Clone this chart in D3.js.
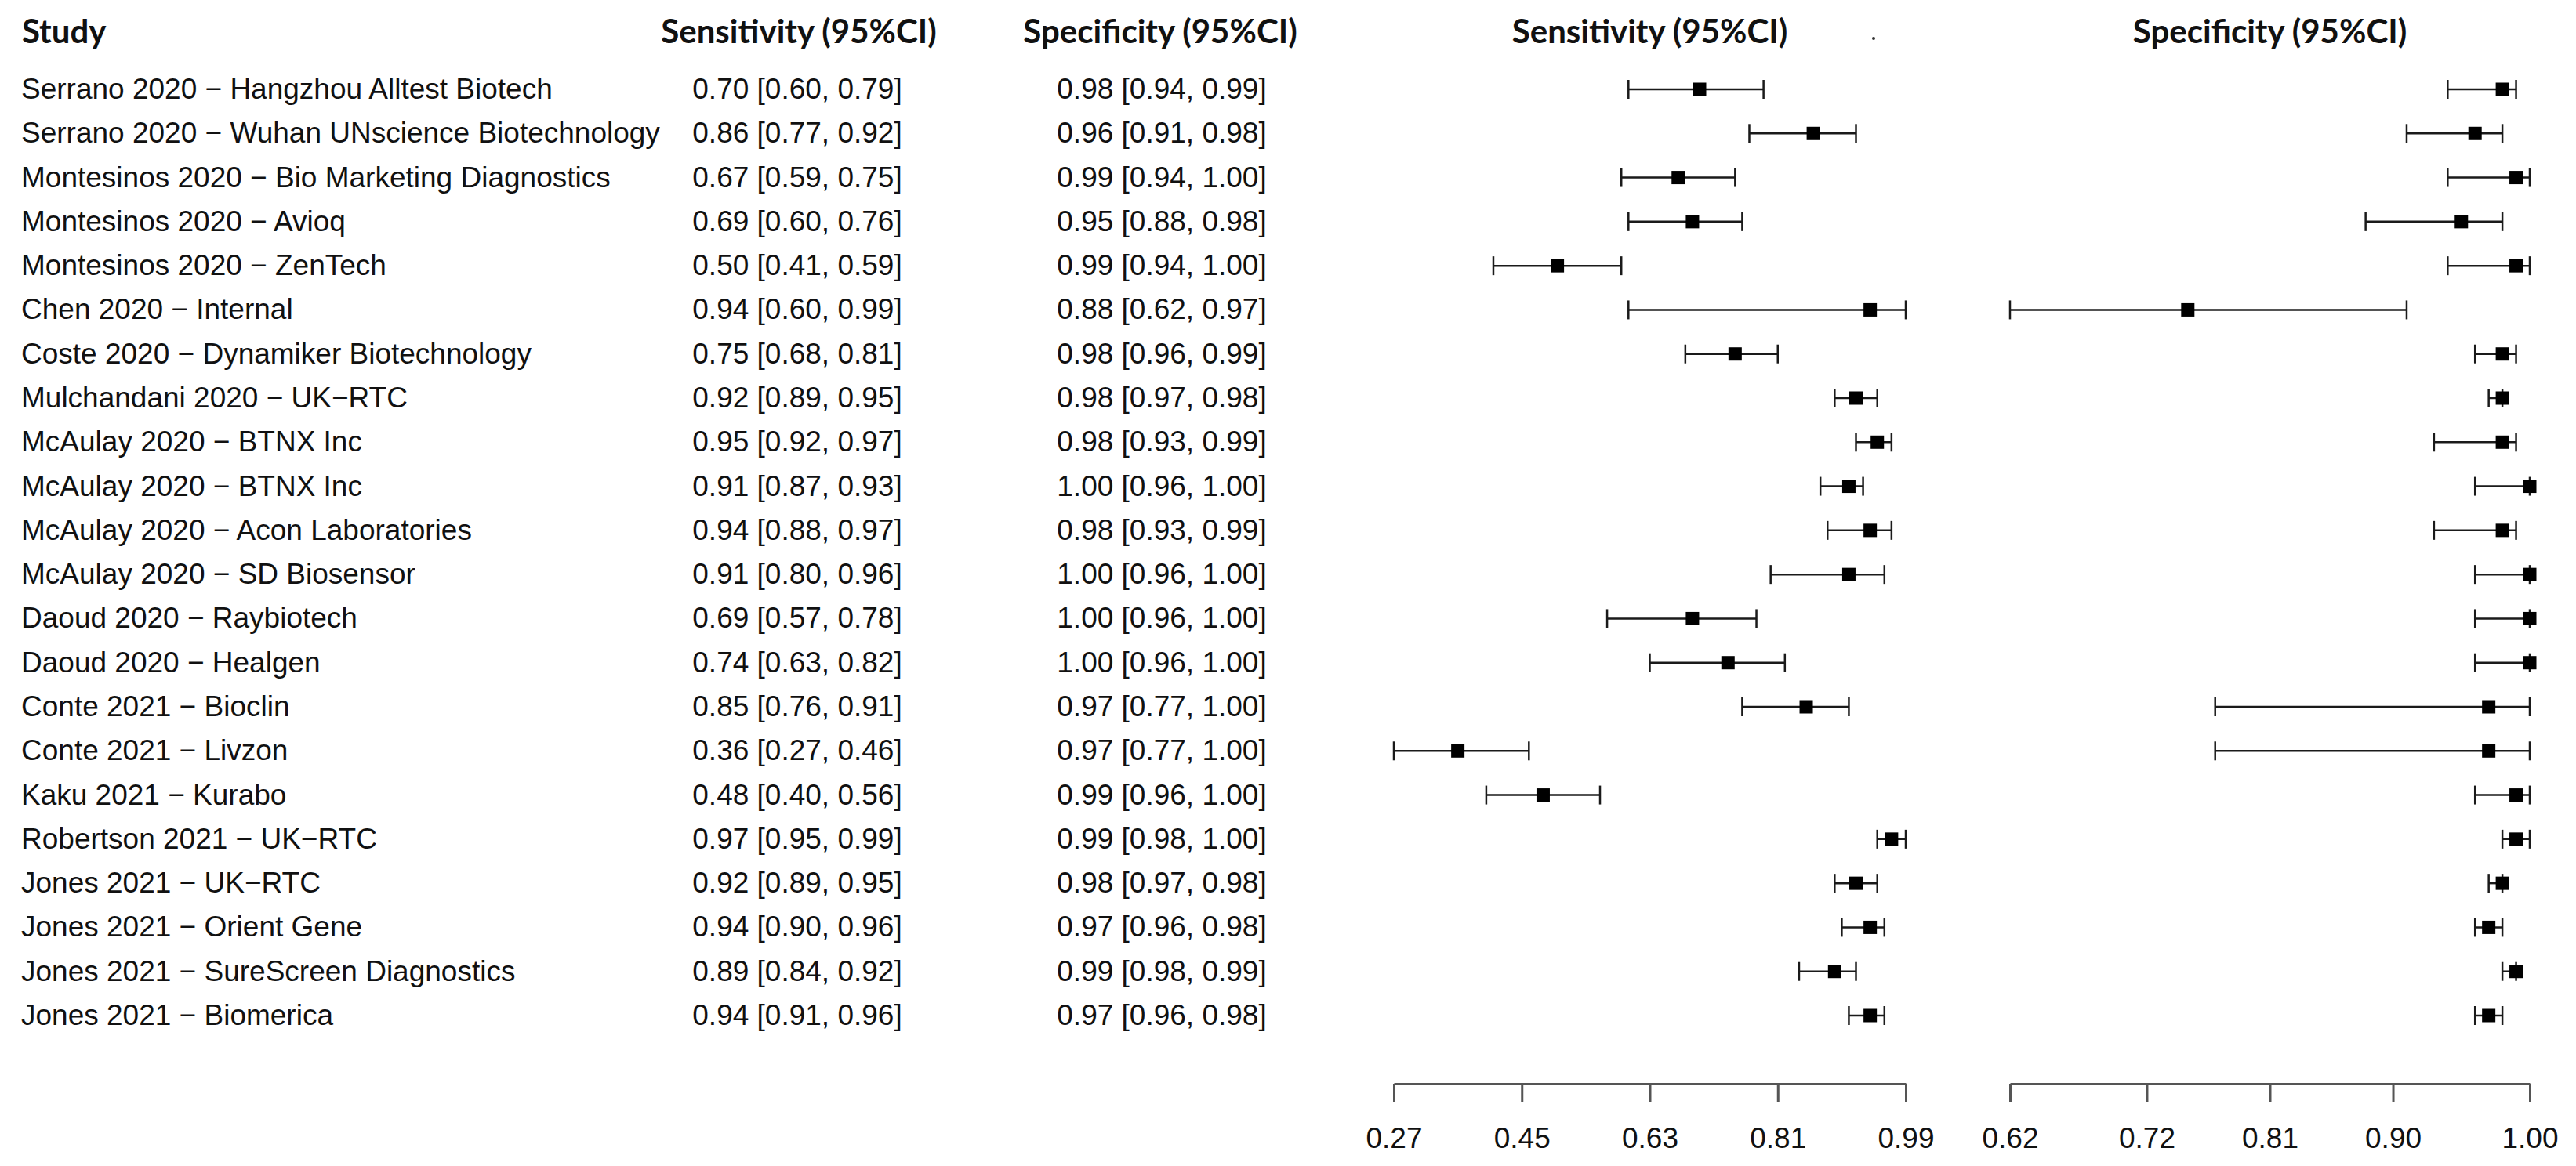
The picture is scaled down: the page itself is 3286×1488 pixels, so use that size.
<!DOCTYPE html>
<html>
<head>
<meta charset="utf-8">
<script src="https://cdn.jsdelivr.net/npm/d3@7"></script>
<style>
  html, body { margin: 0; padding: 0; background: #fff; }
  svg { display: block; }
</style>
</head>
<body>
<script>
const studies = [
  "Serrano 2020 \u2212 Hangzhou Alltest Biotech",
  "Serrano 2020 \u2212 Wuhan UNscience Biotechnology",
  "Montesinos 2020 \u2212 Bio Marketing Diagnostics",
  "Montesinos 2020 \u2212 Avioq",
  "Montesinos 2020 \u2212 ZenTech",
  "Chen 2020 \u2212 Internal",
  "Coste 2020 \u2212 Dynamiker Biotechnology",
  "Mulchandani 2020 \u2212 UK\u2212RTC",
  "McAulay 2020 \u2212 BTNX Inc",
  "McAulay 2020 \u2212 BTNX Inc",
  "McAulay 2020 \u2212 Acon Laboratories",
  "McAulay 2020 \u2212 SD Biosensor",
  "Daoud 2020 \u2212 Raybiotech",
  "Daoud 2020 \u2212 Healgen",
  "Conte 2021 \u2212 Bioclin",
  "Conte 2021 \u2212 Livzon",
  "Kaku 2021 \u2212 Kurabo",
  "Robertson 2021 \u2212 UK\u2212RTC",
  "Jones 2021 \u2212 UK\u2212RTC",
  "Jones 2021 \u2212 Orient Gene",
  "Jones 2021 \u2212 SureScreen Diagnostics",
  "Jones 2021 \u2212 Biomerica"
];
// printed text columns
const sensText = [
  "0.70 [0.60, 0.79]","0.86 [0.77, 0.92]","0.67 [0.59, 0.75]","0.69 [0.60, 0.76]","0.50 [0.41, 0.59]",
  "0.94 [0.60, 0.99]","0.75 [0.68, 0.81]","0.92 [0.89, 0.95]","0.95 [0.92, 0.97]","0.91 [0.87, 0.93]",
  "0.94 [0.88, 0.97]","0.91 [0.80, 0.96]","0.69 [0.57, 0.78]","0.74 [0.63, 0.82]","0.85 [0.76, 0.91]",
  "0.36 [0.27, 0.46]","0.48 [0.40, 0.56]","0.97 [0.95, 0.99]","0.92 [0.89, 0.95]","0.94 [0.90, 0.96]",
  "0.89 [0.84, 0.92]","0.94 [0.91, 0.96]"
];
const specText = [
  "0.98 [0.94, 0.99]","0.96 [0.91, 0.98]","0.99 [0.94, 1.00]","0.95 [0.88, 0.98]","0.99 [0.94, 1.00]",
  "0.88 [0.62, 0.97]","0.98 [0.96, 0.99]","0.98 [0.97, 0.98]","0.98 [0.93, 0.99]","1.00 [0.96, 1.00]",
  "0.98 [0.93, 0.99]","1.00 [0.96, 1.00]","1.00 [0.96, 1.00]","1.00 [0.96, 1.00]","0.97 [0.77, 1.00]",
  "0.97 [0.77, 1.00]","0.99 [0.96, 1.00]","0.99 [0.98, 1.00]","0.98 [0.97, 0.98]","0.97 [0.96, 0.98]",
  "0.99 [0.98, 0.99]","0.97 [0.96, 0.98]"
];
// plotted values (as drawn in the panels)
const sensEst = [0.70,0.86,0.67,0.69,0.50,0.94,0.75,0.92,0.95,0.91,0.94,0.91,0.69,0.74,0.85,0.36,0.48,0.97,0.92,0.94,0.89,0.94];
const sensLo  = [0.60,0.77,0.59,0.60,0.41,0.60,0.68,0.89,0.92,0.87,0.88,0.80,0.57,0.63,0.76,0.27,0.40,0.95,0.89,0.90,0.84,0.91];
const sensHi  = [0.79,0.92,0.75,0.76,0.59,0.99,0.81,0.95,0.97,0.93,0.97,0.96,0.78,0.82,0.91,0.46,0.56,0.99,0.95,0.96,0.92,0.96];
const specEst = [0.98,0.96,0.99,0.95,0.99,0.75,0.98,0.98,0.98,1.00,0.98,1.00,1.00,1.00,0.97,0.97,0.99,0.99,0.98,0.97,0.99,0.97];
const specLo  = [0.94,0.91,0.94,0.88,0.94,0.62,0.96,0.97,0.93,0.96,0.93,0.96,0.96,0.96,0.77,0.77,0.96,0.98,0.97,0.96,0.98,0.96];
const specHi  = [0.99,0.98,1.00,0.98,1.00,0.91,0.99,0.98,0.99,1.00,0.99,1.00,1.00,1.00,1.00,1.00,1.00,1.00,0.98,0.98,0.99,0.98];
const sensTicks = [0.27,0.45,0.63,0.81,0.99];
const sensTickLabels = ["0.27","0.45","0.63","0.81","0.99"];
const specTicks = [0.62,0.72,0.81,0.90,1.00];
const specTickLabels = ["0.62","0.72","0.81","0.90","1.00"];
const headers = ["Study","Sensitivity (95%CI)","Specificity (95%CI)","Sensitivity (95%CI)","Specificity (95%CI)"];

const W = 3286, H = 1488;
const svg = d3.select("body").append("svg").attr("width", W).attr("height", H);

const idx = d3.range(studies.length);
const y = d3.scalePoint().domain(idx).range([114, 1296]);
const xSens = d3.scaleLinear().domain([0.27, 0.99]).range([1778, 2431]);
const xSpec = d3.scaleLinear().domain([0.62, 1.00]).range([2564, 3227]);

const bodyFont = "'Liberation Sans', Arial, sans-serif";
const headFont = "Lato, 'Open Sans', sans-serif";

// headers
const headerX = [28, 1019, 1480, xSens(0.63), xSpec(0.81)];
const headerAnchor = ["start","middle","middle","middle","middle"];
svg.append("g").selectAll("text").data(headers).join("text")
  .attr("x", (d, i) => headerX[i])
  .attr("y", 55)
  .attr("text-anchor", (d, i) => headerAnchor[i])
  .style("font-family", headFont)
  .style("font-weight", 700)
  .style("font-size", "42px")
  .attr("fill", "#111")
  .text(d => d);

svg.append("circle").attr("cx", 2390).attr("cy", 49).attr("r", 2).attr("fill", "#333");

// text columns
const rows = svg.append("g").selectAll("g").data(idx).join("g");
rows.append("text")
  .attr("x", 27).attr("y", d => y(d) + 12)
  .style("font-family", bodyFont).style("font-size", "37px").attr("fill", "#111")
  .text(d => studies[d]);
rows.append("text")
  .attr("x", 1017).attr("y", d => y(d) + 12).attr("text-anchor", "middle")
  .style("font-family", bodyFont).style("font-size", "37px").attr("fill", "#111")
  .text(d => sensText[d]);
rows.append("text")
  .attr("x", 1482).attr("y", d => y(d) + 12).attr("text-anchor", "middle")
  .style("font-family", bodyFont).style("font-size", "37px").attr("fill", "#111")
  .text(d => specText[d]);

// forest panels
function panel(x, est, lo, hi) {
  const g = svg.append("g");
  const r = g.selectAll("g").data(idx).join("g");
  r.append("line")
    .attr("x1", d => x(lo[d])).attr("x2", d => x(hi[d]))
    .attr("y1", d => y(d)).attr("y2", d => y(d))
    .attr("stroke", "#1a1a1a").attr("stroke-width", 2.5);
  r.append("line")
    .attr("x1", d => x(lo[d])).attr("x2", d => x(lo[d]))
    .attr("y1", d => y(d) - 12).attr("y2", d => y(d) + 12)
    .attr("stroke", "#1a1a1a").attr("stroke-width", 2.5);
  r.append("line")
    .attr("x1", d => x(hi[d])).attr("x2", d => x(hi[d]))
    .attr("y1", d => y(d) - 12).attr("y2", d => y(d) + 12)
    .attr("stroke", "#1a1a1a").attr("stroke-width", 2.5);
  r.append("rect")
    .attr("x", d => x(est[d]) - 8.5).attr("y", d => y(d) - 8.5)
    .attr("width", 17).attr("height", 17).attr("fill", "#000");
}
panel(xSens, sensEst, sensLo, sensHi);
panel(xSpec, specEst, specLo, specHi);

// axes
function axis(x, ticks, labels) {
  const a = d3.axisBottom(x).tickValues(ticks).tickSize(23).tickSizeOuter(0).tickPadding(33)
    .tickFormat((d, i) => labels[i]);
  const g = svg.append("g").attr("transform", "translate(0,1383)").call(a);
  g.select(".domain").attr("stroke", "#555").attr("stroke-width", 3);
  g.selectAll(".tick line").attr("stroke", "#555").attr("stroke-width", 3);
  g.selectAll(".tick text").style("font-family", bodyFont).style("font-size", "37px").attr("fill", "#111");
}
axis(xSens, sensTicks, sensTickLabels);
axis(xSpec, specTicks, specTickLabels);
</script>
</body>
</html>
